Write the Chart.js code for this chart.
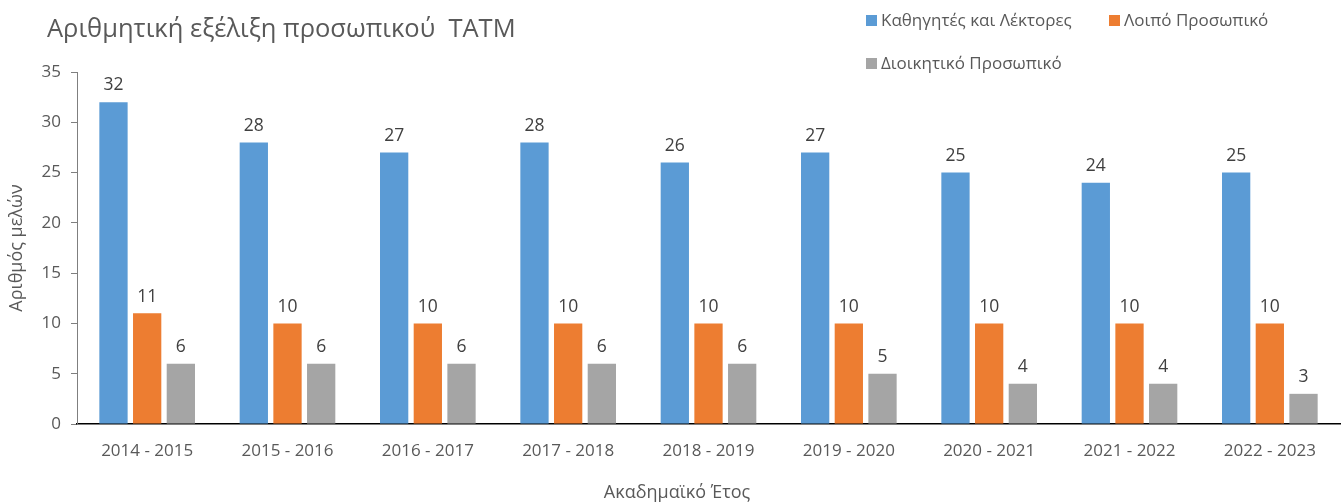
<!DOCTYPE html>
<html>
<head>
<meta charset="utf-8">
<script src="https://cdn.jsdelivr.net/npm/chart.js@4"></script>
<style>
  html, body { margin: 0; padding: 0; background: #fff; }
  #wrap { position: relative; width: 1342px; height: 504px; font-family: "Open Sans", "Noto Sans", sans-serif; color: #595959; }
  #title { position: absolute; left: 47px; top: 10px; font-size: 25.5px; }
  .leg { position: absolute; font-size: 17px; white-space: nowrap; }
  .leg i { display: inline-block; width: 11px; height: 11px; margin-right: 4px; vertical-align: 0px; }
  #xtitle { position: absolute; left: 0; width: 1354px; text-align: center; top: 479px; font-size: 18px; }
  canvas { position: absolute; left: 0; top: 0; }
</style>
</head>
<body>
<div id="wrap">
  <canvas id="c" width="1342" height="504"></canvas>
  <div id="title">Αριθμητική εξέλιξη προσωπικού&nbsp; ΤΑΤΜ</div>
  <div id="legend"></div>
  <div id="xtitle">Ακαδημαϊκό Έτος</div>
</div>
<script>
// values
var years = ["2014 - 2015", "2015 - 2016", "2016 - 2017", "2017 - 2018", "2018 - 2019",
             "2019 - 2020", "2020 - 2021", "2021 - 2022", "2022 - 2023"];
var faculty = [32, 28, 27, 28, 26, 27, 25, 24, 25];
var otherStaff = [11, 10, 10, 10, 10, 10, 10, 10, 10];
var adminStaff = [6, 6, 6, 6, 6, 5, 4, 4, 3];

var seriesNames = ["Καθηγητές και Λέκτορες", "Λοιπό Προσωπικό", "Διοικητικό Προσωπικό"];
var colors = ["#5B9BD5", "#ED7D31", "#A5A5A5"];

// legend in html, two rows like the original
var legPos = [[866, 8], [1109, 8], [866, 51]];
var legend = document.getElementById("legend");
seriesNames.forEach(function (n, i) {
  var d = document.createElement("div"); d.className = "leg";
  d.style.left = legPos[i][0] + "px"; d.style.top = legPos[i][1] + "px";
  d.innerHTML = '<i style="background:' + colors[i] + '"></i>' + n;
  legend.appendChild(d);
});

// number above each bar
var barLabels = {
  id: "barLabels",
  afterDatasetsDraw: function (chart) {
    var ctx = chart.ctx;
    ctx.save();
    ctx.font = "17.5px 'Open Sans', 'Noto Sans', sans-serif";
    ctx.fillStyle = "#404040";
    ctx.textAlign = "center";
    ctx.textBaseline = "bottom";
    chart.data.datasets.forEach(function (ds, i) {
      chart.getDatasetMeta(i).data.forEach(function (bar, j) {
        ctx.fillText(ds.data[j], bar.x, bar.y - 8);
      });
    });
    ctx.restore();
  }
};

var font = { family: "'Open Sans', 'Noto Sans', sans-serif", size: 17 };

new Chart(document.getElementById("c"), {
  type: "bar",
  data: {
    labels: years,
    datasets: [
      { label: seriesNames[0], data: faculty, backgroundColor: colors[0] },
      { label: seriesNames[1], data: otherStaff, backgroundColor: colors[1] },
      { label: seriesNames[2], data: adminStaff, backgroundColor: colors[2] }
    ]
  },
  options: {
    responsive: false,
    animation: false,
    layout: { padding: { top: 72, right: 2, left: 0, bottom: 0 } },
    datasets: { bar: { categoryPercentage: 0.72, barPercentage: 0.84 } },
    plugins: { legend: { display: false }, tooltip: { enabled: false } },
    scales: {
      x: {
        grid: { display: true, drawOnChartArea: false, drawTicks: false, color: "rgba(0,0,0,0)" },
        border: { color: "#000", width: 1.5 },
        ticks: { color: "#595959", font: font, padding: 17, maxRotation: 0 },
        afterFit: function (s) { s.height = 80; }
      },
      y: {
        min: 0, max: 35,
        ticks: { stepSize: 5, color: "#595959", font: font, padding: 10 },
        grid: { drawOnChartArea: false, tickLength: 6, color: "#7f7f7f" },
        border: { color: "#7f7f7f", width: 1 },
        title: { display: true, text: "Αριθμός μελών", color: "#595959", font: { family: font.family, size: 18 }, padding: { top: 6, bottom: 0 } },
        afterFit: function (s) { s.width = 77; }
      }
    }
  },
  plugins: [barLabels]
});
</script>
</body>
</html>
